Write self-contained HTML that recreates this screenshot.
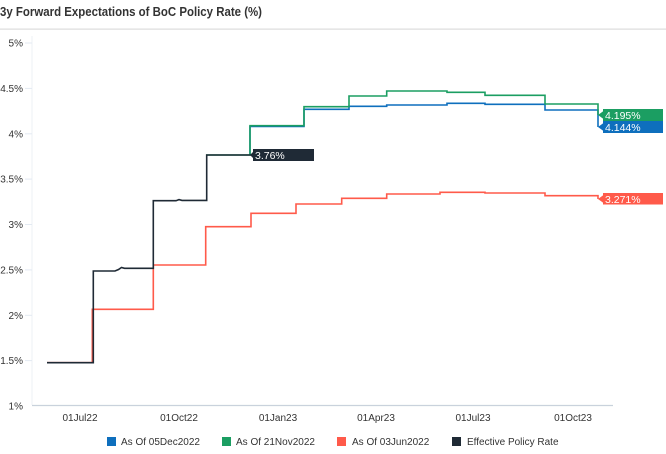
<!DOCTYPE html>
<html>
<head>
<meta charset="utf-8">
<style>
  html,body{margin:0;padding:0;background:#fff;}
  svg{display:block;}
  text{font-family:"Liberation Sans",Arial,sans-serif;}
</style>
</head>
<body>
<svg width="666" height="454" viewBox="0 0 666 454" xmlns="http://www.w3.org/2000/svg">
  <!-- Title -->
  <text x="0" y="16" font-size="13" font-weight="bold" fill="#333" textLength="262" lengthAdjust="spacingAndGlyphs">3y Forward Expectations of BoC Policy Rate (%)</text>
  <rect x="0" y="28.5" width="666" height="1.2" fill="#dcdcdc"/>

  <!-- Y axis -->
  <line x1="32" y1="36" x2="32" y2="405" stroke="#eef1f5" stroke-width="1"/>
  <g stroke="#e3eaf2" stroke-width="1">
    <line x1="25" y1="43" x2="32" y2="43"/>
    <line x1="25" y1="88.4" x2="32" y2="88.4"/>
    <line x1="25" y1="133.8" x2="32" y2="133.8"/>
    <line x1="25" y1="179.1" x2="32" y2="179.1"/>
    <line x1="25" y1="224.5" x2="32" y2="224.5"/>
    <line x1="25" y1="269.9" x2="32" y2="269.9"/>
    <line x1="25" y1="315.3" x2="32" y2="315.3"/>
    <line x1="25" y1="360.6" x2="32" y2="360.6"/>
  </g>
  <g font-size="10" fill="#333" text-anchor="end">
    <text x="23" y="46.5">5%</text>
    <text x="23" y="91.9">4.5%</text>
    <text x="23" y="137.3">4%</text>
    <text x="23" y="182.6">3.5%</text>
    <text x="23" y="228">3%</text>
    <text x="23" y="273.4">2.5%</text>
    <text x="23" y="318.8">2%</text>
    <text x="23" y="364.1">1.5%</text>
    <text x="23" y="409.5">1%</text>
  </g>

  <!-- X axis -->
  <line x1="32" y1="405.5" x2="613" y2="405.5" stroke="#c9d2dc" stroke-width="1.2"/>
  <g font-size="10" fill="#333" text-anchor="middle">
    <text x="80" y="421">01Jul22</text>
    <text x="179" y="421">01Oct22</text>
    <text x="278" y="421">01Jan23</text>
    <text x="376" y="421">01Apr23</text>
    <text x="473" y="421">01Jul23</text>
    <text x="573" y="421">01Oct23</text>
  </g>

  <!-- Series -->
  <g fill="none" stroke-width="1.6" stroke-linejoin="miter">
    <!-- Red: As Of 03Jun2022 -->
    <path stroke="#ff5a4a" d="M47,362.7 H92.3 V309.3 H153.3 V265 H205.7 V226.7 H251 V213.3 H296 V204 H341.7 V198.3 H386.7 V194 H440 V192.3 H485 V193 H545 V195.7 H598 V199"/>
    <!-- Blue: As Of 05Dec2022 -->
    <path stroke="#0e6fbd" d="M250,155 V126.5 H304 V109.3 H349 V106.3 H386.7 V105 H447 V103.3 H485 V104.3 H545 V110 H598 V127"/>
    <!-- Green: As Of 21Nov2022 -->
    <path stroke="#1b9e62" d="M206,155 H250 V125.7 H304 V106.7 H349 V96 H386.7 V91 H447 V92.3 H485 V95.3 H545 V104 H598 V115"/>
    <!-- Black: Effective Policy Rate -->
    <path stroke="#1f2a35" d="M47,362.7 H93.3 V271 H115 L118.5,269.5 L121.5,267.5 L124.5,268.3 H153.3 V200.7 H176 L179,199.6 L182,200.4 H206.7 V155 H251"/>
  </g>

  <!-- End labels -->
  <g font-size="10.5" fill="#fff">
    <polygon points="250,155 253.5,151.5 253.5,158.5" fill="#1f2a36"/>
    <rect x="253" y="149" width="61" height="12" fill="#1f2a36"/>
    <text x="255" y="159">3.76%</text>

    <polygon points="598,115 603.5,111 603.5,119" fill="#1b9e62"/>
    <rect x="603" y="109" width="60" height="12" fill="#1b9e62"/>
    <text x="605" y="119">4.195%</text>

    <polygon points="598,127 603.5,123 603.5,131" fill="#0e6fbd"/>
    <rect x="603" y="121" width="60" height="12" fill="#0e6fbd"/>
    <text x="605" y="131">4.144%</text>

    <polygon points="598,199 603.5,195 603.5,203" fill="#ff5a4a"/>
    <rect x="603" y="193" width="60" height="11.5" fill="#ff5a4a"/>
    <text x="605" y="203">3.271%</text>
  </g>

  <!-- Legend -->
  <g font-size="10" fill="#333">
    <rect x="107" y="437" width="9" height="9" fill="#0e6fbd"/>
    <text x="121" y="445">As Of 05Dec2022</text>
    <rect x="222" y="437" width="9" height="9" fill="#1b9e62"/>
    <text x="236" y="445">As Of 21Nov2022</text>
    <rect x="337" y="437" width="9" height="9" fill="#ff5a4a"/>
    <text x="352" y="445">As Of 03Jun2022</text>
    <rect x="452" y="437" width="9" height="9" fill="#1f2a35"/>
    <text x="467" y="445">Effective Policy Rate</text>
  </g>
</svg>
</body>
</html>
